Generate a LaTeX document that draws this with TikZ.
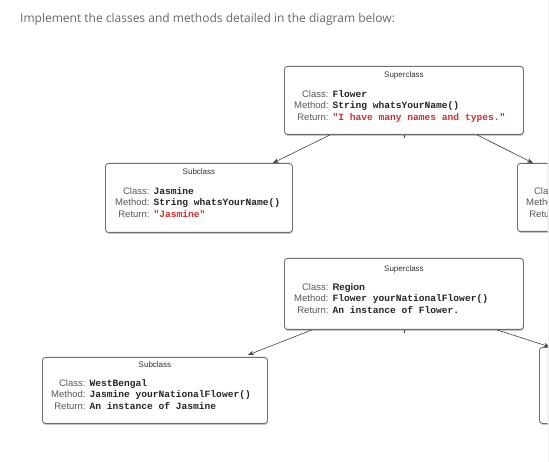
\documentclass[tikz,border=0pt]{standalone}
\usepackage{fontspec}
\usepackage{array}
\setmainfont{Liberation Sans}
\setsansfont{Liberation Sans}
\setmonofont{Liberation Mono}
\newfontfamily\titlefont{Open Sans}
\usetikzlibrary{positioning,arrows.meta,calc,shadows}
\definecolor{retred}{RGB}{214,48,48}
\definecolor{boxgray}{RGB}{110,110,110}
\definecolor{titlegray}{RGB}{105,105,105}

\begin{document}
\begin{tikzpicture}[x=1pt, y=-1pt,
    classbox/.style={draw=boxgray, fill=white, line width=0.9pt, rounded corners=3pt, anchor=north west, inner sep=0pt,
        drop shadow={shadow xshift=0.4pt, shadow yshift=-1.4pt, opacity=0.45}},
    head/.style={font=\fontsize{8}{9.6}\selectfont, text=black!80},
    rows/.style={anchor=north west, inner sep=0pt, font=\fontsize{9.5}{11.5}\selectfont, text=black!65},
    arr/.style={-{Stealth[length=6pt, width=4.5pt]}, line width=0.6pt, draw=black!75},
    tick/.style={line width=0.9pt, draw=black!75}
]
    \useasboundingbox (0,0) rectangle (549,462);
    \fill[white] (0,0) rectangle (549,462);
    \fill[black!6] (547.5,0) rectangle (549,462);

    % Title
    \node[anchor=west, inner sep=0pt, font=\titlefont\fontsize{12}{14}\selectfont, text=titlegray] (title) at (20,19)
        {Implement the classes and methods detailed in the diagram below:};

    \begin{scope}
    \clip (0,0) rectangle (547.5,462);

    % Superclass Flower
    \node[classbox, minimum width=239pt, minimum height=68pt] (flower) at (284,66) {};
    \node[head] (flowerhead) at ($(flower.north)+(0,9)$) {Superclass};
    \node[rows] (flowerrows) at ($(flower.north west)+(10,23)$) {%
        \begin{tabular}{@{}r@{\hspace{4pt}}>{\fontsize{9.6}{11.5}\selectfont\ttfamily\bfseries\color{black!85}}l@{}}
        Class: & Flower\\
        Method: & String whatsYourName()\\
        Return: & \textcolor{retred}{"I have many names and types."}
        \end{tabular}};

    % Subclass Jasmine
    \node[classbox, minimum width=187pt, minimum height=69pt] (jasmine) at (105,163) {};
    \node[head] (jasminehead) at ($(jasmine.north)+(0,9)$) {Subclass};
    \node[rows] (jasminerows) at ($(jasmine.north west)+(10,23)$) {%
        \begin{tabular}{@{}r@{\hspace{4pt}}>{\fontsize{9.6}{11.5}\selectfont\ttfamily\bfseries\color{black!85}}l@{}}
        Class: & Jasmine\\
        Method: & String whatsYourName()\\
        Return: & \textcolor{retred}{"Jasmine"}
        \end{tabular}};

    % Subclass at the right edge
    \node[classbox, minimum width=100pt, minimum height=68pt] (rightone) at (517,163) {};
    \node[rows] (rightonerows) at ($(rightone.north west)+(9,23)$) {%
        \begin{tabular}{@{}r@{}}
        Class:\\
        Method:\\
        Return:
        \end{tabular}};

    % Superclass Region
    \node[classbox, minimum width=239pt, minimum height=71pt] (region) at (284,258) {};
    \node[head] (regionhead) at ($(region.north)+(0,11)$) {Superclass};
    \node[rows] (regionrows) at ($(region.north west)+(10,24)$) {%
        \begin{tabular}{@{}r@{\hspace{4pt}}>{\fontsize{9.6}{11.5}\selectfont\ttfamily\bfseries\color{black!85}}l@{}}
        Class: & \textsf{Region}\\
        Method: & Flower yourNationalFlower()\\
        Return: & An instance of Flower.
        \end{tabular}};

    % Subclass WestBengal
    \node[classbox, minimum width=225pt, minimum height=66pt] (westbengal) at (42,357) {};
    \node[head] (westbengalhead) at ($(westbengal.north)+(0,8)$) {Subclass};
    \node[rows] (westbengalrows) at ($(westbengal.north west)+(9,21)$) {%
        \begin{tabular}{@{}r@{\hspace{4pt}}>{\fontsize{9.6}{11.5}\selectfont\ttfamily\bfseries\color{black!85}}l@{}}
        Class: & WestBengal\\
        Method: & Jasmine yourNationalFlower()\\
        Return: & An instance of Jasmine
        \end{tabular}};

    % Subclass at the lower right edge
    \node[classbox, minimum width=100pt, minimum height=76pt] (righttwo) at (539,347) {};

    % Connections
    \draw[arr] ($(flower.south west)+(46,0)$) -- ($(jasmine.north east)+(-20,0)$);
    \draw[arr] ($(flower.south west)+(193,0)$) -- ($(rightone.north west)+(16,0)$);
    \draw[arr] ($(region.south west)+(28,0)$) -- ($(westbengal.north east)+(-20,-2)$);
    \draw[arr] ($(region.south west)+(213,0)$) -- ($(righttwo.north west)+(11,0)$);

    % Ticks
    \draw[tick] (flower.south) -- ++(0,3);
    \draw[tick] (region.south) -- ++(0,3);
    \end{scope}
\end{tikzpicture}
\end{document}
